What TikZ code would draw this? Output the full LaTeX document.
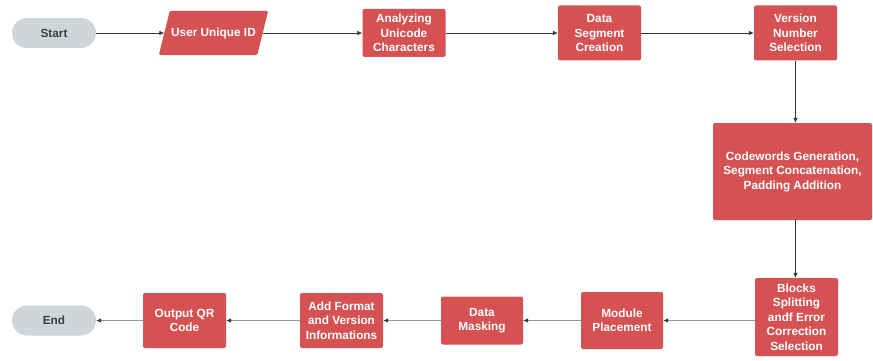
\documentclass[tikz,border=0pt]{standalone}
\usepackage{fontspec}
\setmainfont{Liberation Sans}
\usetikzlibrary{arrows.meta}
\definecolor{boxred}{RGB}{214,82,82}
\definecolor{termgray}{RGB}{210,213,215}
\definecolor{termtext}{RGB}{60,60,60}
\definecolor{linkdark}{RGB}{55,55,55}
\definecolor{linklight}{RGB}{150,150,150}
\begin{document}
\begin{tikzpicture}[x=1pt,y=-1pt,
  every node/.style={font=\fontsize{11.8}{14.5}\selectfont\bfseries, align=center, inner sep=0pt},
  procbox/.style={fill=boxred, text=white, rounded corners=2pt},
  terminal/.style={fill=termgray, text=termtext, rounded corners=15pt, minimum width=84pt, minimum height=30pt},
  link/.style={draw=linkdark, line width=0.7pt, -{Latex[length=5pt,width=4.5pt]}},
  lightlink/.style={draw=linklight, line width=0.7pt, -{Latex[length=5pt,width=4.5pt,color=linkdark]}}
]
\useasboundingbox (0,0) rectangle (873,361);

% top row
\node[terminal] (start) at (54,33) {Start};
% input parallelogram: frame node, slanted fill, then its label
\node[minimum width=98pt, minimum height=44pt] (uid) at (213.5,33) {};
\fill[boxred, rounded corners=1.5pt]
  ([xshift=5.5pt]uid.north west) -- ([xshift=5.5pt]uid.north east) --
  ([xshift=-5.5pt]uid.south east) -- ([xshift=-5.5pt]uid.south west) -- cycle;
\node[text=white] (uidlabel) at (uid) {User Unique ID};
\node[procbox, minimum width=83pt, minimum height=48pt] (ana) at (404,33) {Analyzing\\Unicode\\Characters};
\node[procbox, minimum width=83pt, minimum height=55pt] (seg) at (599.5,33) {Data\\Segment\\Creation};
\node[procbox, minimum width=83pt, minimum height=55pt] (ver) at (795.5,33) {Version\\Number\\Selection};

% right column
\node[procbox, minimum width=159pt, minimum height=97pt] (cw) at (792.5,171.5) {Codewords Generation,\\Segment Concatenation,\\Padding Addition};
\node[procbox, minimum width=83pt, minimum height=78pt] (blk) at (796.5,317) {Blocks\\Splitting\\andf Error\\Correction\\Selection};

% bottom row
\node[procbox, minimum width=82pt, minimum height=57pt] (mod) at (622,320.5) {Module\\Placement};
\node[procbox, minimum width=82pt, minimum height=48pt] (mask) at (482,320.5) {Data\\Masking};
\node[procbox, minimum width=83pt, minimum height=55pt] (fmt) at (341.5,320.5) {Add Format\\and Version\\Informations};
\node[procbox, minimum width=83pt, minimum height=55pt] (out) at (184.5,320.5) {Output QR\\Code};
\node[terminal] (end) at (54,320.5) {End};

% connectors
\draw[link] (start) -- (uid);
\draw[link] (uid) -- (ana);
\draw[link] (ana) -- (seg);
\draw[link] (seg) -- (ver);
\draw[link] (ver.south) -- (ver.south |- cw.north);
\draw[link] (ver.south |- cw.south) -- (ver.south |- blk.north);
\draw[lightlink] (blk.west |- mod.east) -- (mod.east);
\draw[lightlink] (mod) -- (mask);
\draw[lightlink] (mask) -- (fmt);
\draw[lightlink] (fmt) -- (out);
\draw[lightlink] (out) -- (end);
\end{tikzpicture}
\end{document}
